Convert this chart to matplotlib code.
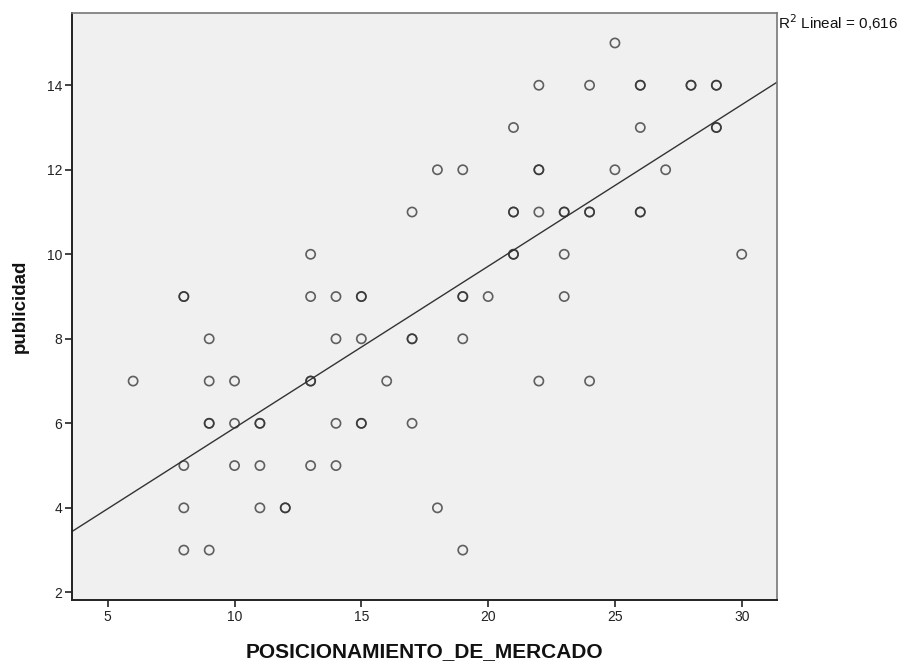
import numpy as np
import matplotlib
matplotlib.use("Agg")
import matplotlib.pyplot as plt

plt.rcParams['font.family'] = ['Liberation Sans', 'DejaVu Sans']

# Data (duplicates repeated)
posicionamiento = [6,
                   8, 8, 8, 8, 8,
                   9, 9, 9, 9, 9,
                   10, 10, 10,
                   11, 11, 11, 11,
                   12, 12,
                   13, 13, 13, 13, 13,
                   14, 14, 14, 14,
                   15, 15, 15, 15, 15,
                   16,
                   17, 17, 17, 17,
                   18, 18,
                   19, 19, 19, 19, 19,
                   20,
                   21, 21, 21, 21, 21,
                   22, 22, 22, 22, 22,
                   23, 23, 23, 23,
                   24, 24, 24, 24,
                   25, 25,
                   26, 26, 26, 26, 26,
                   27,
                   28, 28,
                   29, 29, 29, 29,
                   30]
publicidad = [7,
              9, 9, 5, 4, 3,
              8, 7, 6, 6, 3,
              7, 6, 5,
              6, 6, 5, 4,
              4, 4,
              10, 9, 7, 7, 5,
              9, 8, 6, 5,
              9, 9, 8, 6, 6,
              7,
              11, 8, 8, 6,
              12, 4,
              12, 9, 9, 8, 3,
              9,
              13, 11, 11, 10, 10,
              14, 12, 12, 11, 7,
              11, 11, 10, 9,
              14, 11, 11, 7,
              15, 12,
              14, 14, 13, 11, 11,
              12,
              14, 14,
              14, 14, 13, 13,
              10]
x_ticks = [5, 10, 15, 20, 25, 30]
y_ticks = [2, 4, 6, 8, 10, 12, 14]
r2_label = r'R$^2$ Lineal = 0,616'

x = np.array(posicionamiento, dtype=float)
y = np.array(publicidad, dtype=float)
slope, intercept = np.polyfit(x, y, 1)

fig = plt.figure(figsize=(9, 6.62), dpi=100)
ax = fig.add_axes([0.08, 0.0937, 0.7833, 0.8867])
ax.set_facecolor('#f0f0f0')

ax.scatter(x, y, s=44, facecolors='none', edgecolors=(0.18, 0.18, 0.18, 0.75),
           linewidths=1.2, zorder=3)

xlim = (3.59, 31.39)
xx = np.array(xlim)
ax.plot(xx, intercept + slope * xx, color='#333333', linewidth=1.0, zorder=2)

ax.set_xlim(*xlim)
ax.set_ylim(1.82, 15.71)
ax.set_xticks(x_ticks)
ax.set_yticks(y_ticks)
ax.tick_params(axis='both', labelsize=10, length=5, width=1.2, color='#222222',
               labelcolor='#222222', pad=2)

for side in ['left', 'bottom']:
    ax.spines[side].set_color('#222222')
    ax.spines[side].set_linewidth(1.4)
for side in ['top', 'right']:
    ax.spines[side].set_color('#777777')
    ax.spines[side].set_linewidth(1.2)

ax.set_xlabel('POSICIONAMIENTO_DE_MERCADO', fontsize=15, fontweight='bold', color='#111111')
ax.xaxis.label.set_va('center')
ax.xaxis.set_label_coords(0.5, -0.0886)
ax.set_ylabel('publicidad', fontsize=13.5, fontweight='bold', color='#111111')
ax.yaxis.label.set_va('center')
ax.yaxis.set_label_coords(-0.074, 0.5)

fig.text(0.864, 0.966, r2_label, fontsize=11, ha='left', va='center', color='#111111')

fig.savefig('out.png', dpi=100)
